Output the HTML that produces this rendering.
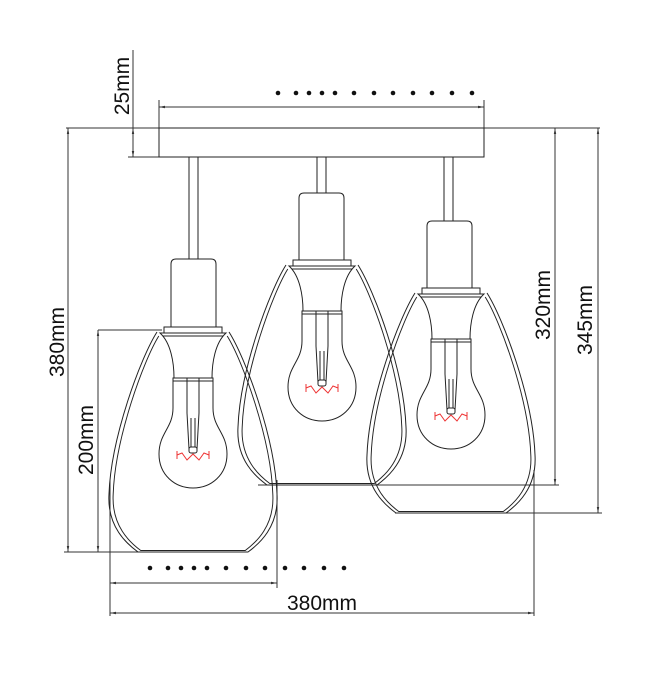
<!DOCTYPE html>
<html><head><meta charset="utf-8"><style>
html,body{margin:0;padding:0;background:#fff;}
svg{display:block;}
text{font-family:"Liberation Sans",sans-serif;font-size:21px;fill:#111;}
</style></head><body>
<svg width="650" height="677" viewBox="0 0 650 677" xmlns="http://www.w3.org/2000/svg">
<defs>
<marker id="a" viewBox="0 0 10 10" refX="10" refY="5" markerWidth="6" markerHeight="6" orient="auto-start-reverse"><path d="M0,3 L10,5 L0,7z" fill="#333"/></marker>
<path id="gp" d="M-36,0 C-52,25 -82,105 -84,162 C-86,195 -66,212 -55,220 L55,220 C66,212 86,195 84,162 C82,105 52,25 36,0" fill="none" stroke="#222" stroke-width="1"/>
<g id="glass">
<use href="#gp"/>
<use href="#gp" transform="translate(0,4) scale(0.95,0.975)"/>
</g>
<g id="lamp" fill="#fff" stroke="#222" stroke-width="1">
<rect x="-29" y="-6" width="58" height="6"/>
<path d="M-33,0 L33,0 C22,10 19,30 19,45 L-19,45 C-19,30 -22,10 -33,0z"/>
<line x1="-30" y1="3" x2="30" y2="3"/>
<path d="M-20,45 L-20,75 C-20,95 -34,100 -34,121 C-34,142 -18,155 0,155 C18,155 34,142 34,121 C34,100 20,95 20,75 L20,45z"/>
<line x1="-20" y1="48" x2="20" y2="48"/>
<line x1="-6" y1="45" x2="-6" y2="80"/><line x1="6" y1="45" x2="6" y2="80"/>
<path d="M-6,80 L-4,116 M6,80 L4,116 M-2,85 L-2,114 M2,85 L2,114" fill="none"/>
<rect x="-4" y="114" width="8" height="6" rx="2"/>
<path d="M-16,122 L-11,120 L-6,127 L0,121 L6,127 L11,120 L16,122 M-16,118 L-16,126 M16,118 L16,126" fill="none" stroke="#e33"/>
</g>
</defs>

<g stroke="#333" stroke-width="1" fill="none">
<line x1="66" y1="128" x2="600" y2="128"/>
<line x1="159" y1="107" x2="484" y2="107" marker-start="url(#a)" marker-end="url(#a)"/>
<line x1="159" y1="100" x2="159" y2="128"/>
<line x1="484" y1="100" x2="484" y2="128"/>
<line x1="133" y1="50" x2="133" y2="128"/>
<line x1="133" y1="128" x2="133" y2="157" marker-start="url(#a)" marker-end="url(#a)"/>
<line x1="128" y1="157" x2="159" y2="157"/>
<line x1="68" y1="128" x2="68" y2="552" marker-start="url(#a)" marker-end="url(#a)"/>
<line x1="64" y1="552" x2="245" y2="552"/>
<line x1="98" y1="330" x2="98" y2="552" marker-start="url(#a)" marker-end="url(#a)"/>
<line x1="98" y1="330" x2="162" y2="330"/>
<line x1="555" y1="128" x2="555" y2="485" marker-start="url(#a)" marker-end="url(#a)"/>
<line x1="258" y1="485" x2="559" y2="485"/>
<line x1="598" y1="128" x2="598" y2="513" marker-start="url(#a)" marker-end="url(#a)"/>
<line x1="395" y1="513" x2="602" y2="513"/>
<line x1="110" y1="583" x2="277" y2="583" marker-start="url(#a)" marker-end="url(#a)"/>
<line x1="110" y1="480" x2="110" y2="616"/>
<line x1="277" y1="480" x2="277" y2="588"/>
<line x1="110" y1="613" x2="534" y2="613" marker-start="url(#a)" marker-end="url(#a)"/>
<line x1="534" y1="470" x2="534" y2="616"/>
</g>

<rect x="159" y="128" width="325" height="29" fill="#fff" stroke="#222" stroke-width="1"/>
<g fill="#fff" stroke="#222" stroke-width="1">
<rect x="189" y="157" width="9" height="102"/>
<rect x="317" y="157" width="9" height="36"/>
<rect x="444" y="157" width="9" height="64"/>
<path d="M171,330 L171,264 Q171,259 176,259 L211,259 Q216,259 216,264 L216,330"/>
<path d="M299,262 L299,198 Q299,193 304,193 L339,193 Q344,193 344,198 L344,262"/>
<path d="M427,290 L427,226 Q427,221 432,221 L467,221 Q472,221 472,226 L472,290"/>
</g>

<use href="#lamp" x="193" y="333"/>
<use href="#lamp" x="322" y="266"/>
<use href="#lamp" x="451" y="294"/>

<use href="#glass" x="451" y="293"/>
<use href="#glass" x="322" y="265"/>
<use href="#glass" x="193" y="332"/>

<g fill="#111">
<circle cx="278" cy="93" r="2.3"/><circle cx="296" cy="93" r="2.3"/><circle cx="309" cy="93" r="2.3"/><circle cx="322" cy="93" r="2.3"/><circle cx="335" cy="93" r="2.3"/><circle cx="354" cy="93" r="2.3"/><circle cx="374" cy="93" r="2.3"/><circle cx="393" cy="93" r="2.3"/><circle cx="413" cy="93" r="2.3"/><circle cx="432" cy="93" r="2.3"/><circle cx="452" cy="93" r="2.3"/><circle cx="472" cy="93" r="2.3"/>
<circle cx="150" cy="568" r="2.3"/><circle cx="168" cy="568" r="2.3"/><circle cx="181" cy="568" r="2.3"/><circle cx="194" cy="568" r="2.3"/><circle cx="207" cy="568" r="2.3"/><circle cx="226" cy="568" r="2.3"/><circle cx="246" cy="568" r="2.3"/><circle cx="265" cy="568" r="2.3"/><circle cx="285" cy="568" r="2.3"/><circle cx="304" cy="568" r="2.3"/><circle cx="324" cy="568" r="2.3"/><circle cx="344" cy="568" r="2.3"/>
</g>

<text transform="translate(129,86) rotate(-90)" text-anchor="middle">25mm</text>
<text transform="translate(64,342) rotate(-90)" text-anchor="middle">380mm</text>
<text transform="translate(93,440) rotate(-90)" text-anchor="middle">200mm</text>
<text transform="translate(550,305) rotate(-90)" text-anchor="middle">320mm</text>
<text transform="translate(592,320) rotate(-90)" text-anchor="middle">345mm</text>
<text x="322" y="610" text-anchor="middle">380mm</text>
</svg>
</body></html>
